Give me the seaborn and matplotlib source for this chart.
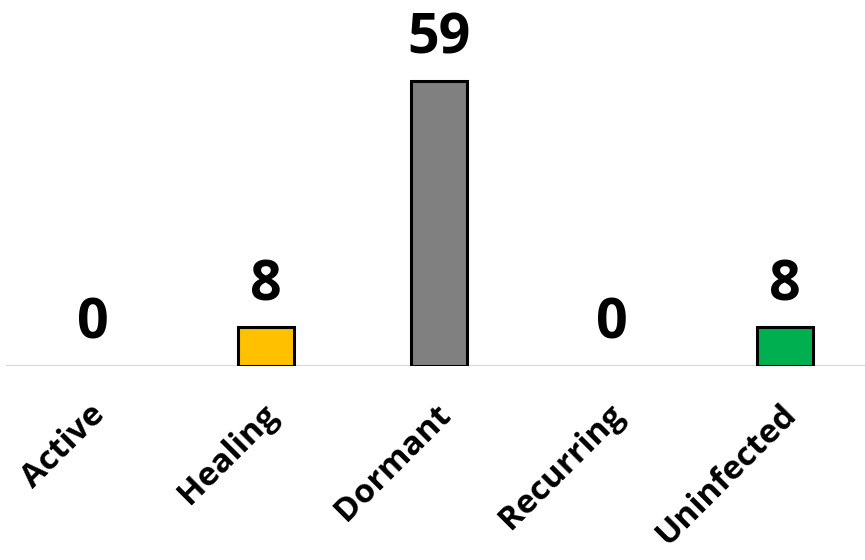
import matplotlib
matplotlib.use("Agg")
import matplotlib.pyplot as plt
import matplotlib.transforms as mtransforms
import seaborn as sns

categories = ["Active", "Healing", "Dormant", "Recurring", "Uninfected"]
counts = [0, 8, 59, 0, 8]
bar_colors = ["#4472C4", "#FFC000", "#808080", "#C00000", "#00B050"]

sns.set_theme(style="white")
plt.rcParams["font.family"] = ["Open Sans", "DejaVu Sans"]

fig = plt.figure(figsize=(8.65, 5.60), dpi=100)
ax = fig.add_axes([0.0075, 1 - 366 / 560, 1.0, 70 * 4.83 / 560])

ax.axhline(0, color="#d9d9d9", linewidth=1.6, zorder=0)

sns.barplot(x=categories, y=counts, hue=categories, palette=bar_colors,
            saturation=1, legend=False, width=0.32, edgecolor="black",
            linewidth=2.2, ax=ax, zorder=2)

for patch in ax.patches:
    if patch.get_height() == 0:
        patch.set_linewidth(0)

for i, v in enumerate(counts):
    ax.annotate(str(v), xy=(i, v), xytext=(0, 19.5), textcoords="offset points",
                ha="center", va="baseline", fontsize=40, fontweight="bold",
                color="black")

ax.set_xlim(-0.5, 4.5)
ax.set_ylim(0, 70)
ax.set_yticks([])
ax.set_xlabel("")
ax.set_ylabel("")
for s in ax.spines.values():
    s.set_visible(False)

ax.set_xticks(range(len(categories)))
ax.set_xticklabels(categories, rotation=45, ha="right", rotation_mode="anchor",
                   fontsize=24, fontweight="bold", color="black")
ax.tick_params(axis="x", length=0, pad=23)
shift = mtransforms.ScaledTranslation(-5 / 100, 0, fig.dpi_scale_trans)
for lbl in ax.get_xticklabels():
    lbl.set_transform(lbl.get_transform() + shift)

fig.savefig("out.png", dpi=100)
